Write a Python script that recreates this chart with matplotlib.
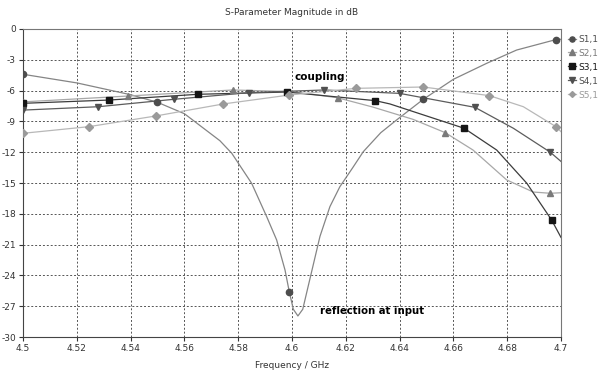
import numpy as np
import matplotlib
matplotlib.use("Agg")
import matplotlib.pyplot as plt

# S-parameter magnitudes (dB)
f_s11 = [4.500, 4.520, 4.540, 4.550, 4.560, 4.5732, 4.5776, 4.585, 4.5906, 4.5943,
         4.5974, 4.599, 4.6005, 4.6022, 4.604, 4.6058, 4.6104, 4.6141, 4.6178,
         4.6226, 4.6265, 4.633, 4.6389, 4.6488, 4.660, 4.6724, 4.6835, 4.698, 4.700]
s11 = [-4.41, -5.25, -6.40, -7.14, -8.25, -10.88, -12.1, -15.03, -18.28, -20.55,
       -23.47, -25.6, -27.3, -27.95, -27.3, -25.3, -20.2, -17.3, -15.36,
       -13.5, -11.95, -10.1, -8.86, -6.85, -4.9, -3.34, -2.05, -1.04, -1.0]
m_s11 = [0, 3, 11, 23, 27]

f_s21 = [4.500, 4.539, 4.578, 4.600, 4.617, 4.630, 4.645, 4.657, 4.6673, 4.6798,
         4.6897, 4.696, 4.700]
s21 = [-7.1, -6.53, -5.94, -6.1, -6.7, -7.6, -8.8, -10.1, -11.79, -14.7,
       -15.88, -16.0, -15.95]
m_s21 = [0, 1, 2, 4, 7, 11]

f_s31 = [4.500, 4.532, 4.565, 4.598, 4.631, 4.6364, 4.664, 4.6761, 4.6873, 4.6965, 4.700]
s31 = [-7.24, -6.92, -6.36, -6.14, -6.98, -7.3, -9.67, -11.79, -15.03, -18.6, -20.3]
m_s31 = [0, 1, 2, 3, 4, 6, 9]

f_s41 = [4.500, 4.528, 4.556, 4.584, 4.612, 4.640, 4.668, 4.6823, 4.696, 4.700]
s41 = [-7.9, -7.57, -6.85, -6.2, -5.94, -6.27, -7.63, -9.67, -12.0, -12.9]
m_s41 = [0, 1, 2, 3, 4, 5, 6, 8]

f_s51 = [4.500, 4.5246, 4.5494, 4.5745, 4.599, 4.6238, 4.6488, 4.6734, 4.686, 4.6981, 4.700]
s51 = [-10.16, -9.51, -8.47, -7.3, -6.43, -5.78, -5.65, -6.49, -7.57, -9.51, -10.0]
m_s51 = [0, 1, 2, 3, 4, 5, 6, 7, 9]

labels = ["S1,1", "S2,1", "S3,1", "S4,1", "S5,1"]

plt.rcParams['font.family'] = ['DejaVu Sans']
plt.rcParams['axes.unicode_minus'] = False

fig = plt.figure(figsize=(6, 3.79), dpi=100)
ax = fig.add_axes([0.0383, 0.1108, 0.8967, 0.8127])

series = [
    (f_s11, s11, m_s11, 'o', '#4d4d4d', '#858585', 4.5),
    (f_s21, s21, m_s21, '^', '#7a7a7a', '#a8a8a8', 5),
    (f_s31, s31, m_s31, 's', '#151515', '#3c3c3c', 4.5),
    (f_s41, s41, m_s41, 'v', '#505050', '#5c5c5c', 5),
    (f_s51, s51, m_s51, 'D', '#9a9a9a', '#b8b8b8', 3.8),
]
handles = []
for (fx, fy, mk, marker, mcol, lcol, ms), lab in zip(series, labels):
    ax.plot(fx, fy, '-', color=lcol, lw=0.9, zorder=2)
    ax.plot(np.array(fx)[mk], np.array(fy)[mk], linestyle='none', marker=marker,
            color=mcol, ms=ms, zorder=3)
    h, = ax.plot([], [], '-', color=lcol, lw=0.9, marker=marker, mfc=mcol,
                 mec=mcol, ms=ms - 0.8, label=lab)
    handles.append(h)

ax.set_xlim(4.5, 4.7)
ax.set_ylim(-30, 0)
xt = np.round(np.arange(4.5, 4.7001, 0.02), 2)
ax.set_xticks(xt)
ax.set_xticklabels(["%g" % v for v in xt])
ax.set_yticks(np.arange(-30, 1, 3))
ax.tick_params(labelsize=6.5, colors='#333333', length=3, width=0.8, pad=2)
ax.grid(True, color='#555555', ls=(0, (2, 2)), lw=0.7)
for s in ['left', 'bottom']:
    ax.spines[s].set_color('#444444')
for s in ['top', 'right']:
    ax.spines[s].set_color('#777777')

ax.set_title("S-Parameter Magnitude in dB", fontsize=6.5, color='#333333', pad=10)
ax.set_xlabel("Frequency / GHz", fontsize=6.5, color='#333333', labelpad=6)

ax.text(4.6104, -4.63, "coupling", fontsize=7.5, fontweight='bold',
        ha='center', va='center', family='Liberation Sans Narrow')
ax.text(4.6296, -27.42, "reflection at input", fontsize=7.3, fontweight='bold',
        ha='center', va='center', family='Liberation Sans Narrow')

leg = ax.legend(handles=handles, loc='upper left', bbox_to_anchor=(1.0, 1.005),
                frameon=False, fontsize=6.5, handlelength=0.9, handletextpad=0.2,
                labelspacing=0.55, borderaxespad=0.4)
for t, (_, _, _, _, mcol, _, _) in zip(leg.get_texts(), series):
    t.set_color(mcol)

fig.savefig("out.png", dpi=100)
